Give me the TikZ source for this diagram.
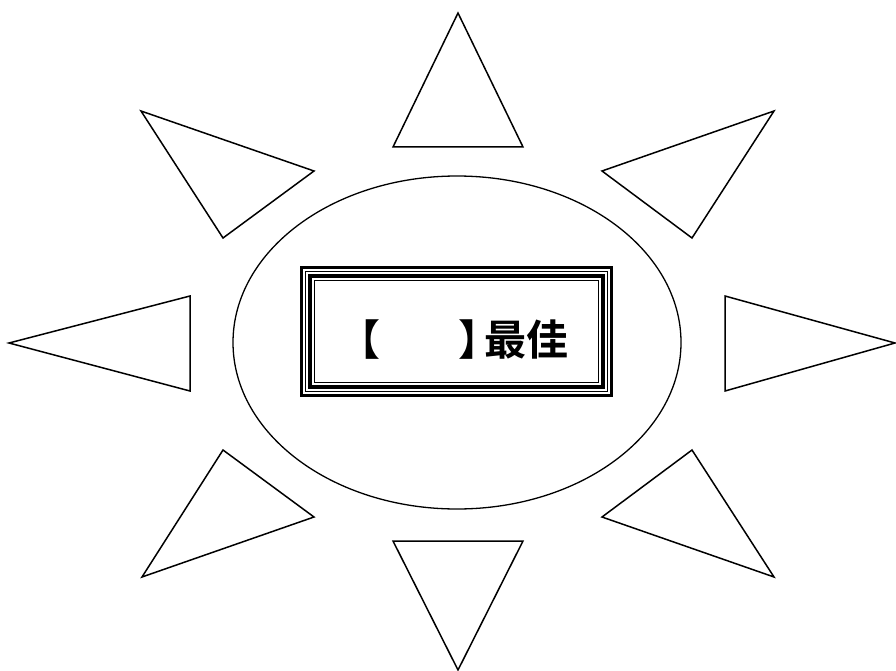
\documentclass[tikz,border=0pt]{standalone}
\usepackage{fontspec}
\usetikzlibrary{shapes.geometric}
\newfontfamily\cjk{Noto Sans CJK SC Bold}
\begin{document}
\begin{tikzpicture}[x=1pt,y=-1pt,
  ray/.style={draw=black,line width=1.5pt,line join=miter},
  rim/.style={draw=black,line width=1.3pt}]
\useasboundingbox (0,0) rectangle (896,671);
% ellipse
\node[rim,ellipse,minimum width=448pt,minimum height=333pt,inner sep=0pt] (sun) at (457,342.5) {};
% rays
\draw[ray] (458,13) -- (523,147) -- (393,147) -- cycle;
\draw[ray] (458,670) -- (523,541) -- (393,541) -- cycle;
\draw[ray] (9,343) -- (190,296) -- (190,391) -- cycle;
\draw[ray] (895,343) -- (725,296) -- (725,391) -- cycle;
\draw[ray] (141,111) -- (314,171) -- (223,238) -- cycle;
\draw[ray] (774,111) -- (602,171) -- (692,238) -- cycle;
\draw[ray] (142,577) -- (314,517) -- (223,450) -- cycle;
\draw[ray] (774,577) -- (602,517) -- (692,450) -- cycle;
% framed box
\draw[line width=3pt] (301.5,267.5) rectangle (611.5,395.5);
\draw[line width=1.2pt] (305.5,271.5) rectangle (607.5,391.5);
\draw[line width=4.5pt] (310,276) rectangle (603,387);
\draw[line width=1.2pt] (314.5,280.5) rectangle (598.5,382.5);
\node[inner sep=0pt] (label) at (453,340) {\fontsize{42pt}{42pt}\cjk 【\hspace*{79pt}】\hspace*{-17pt}最佳};
\end{tikzpicture}
\end{document}
